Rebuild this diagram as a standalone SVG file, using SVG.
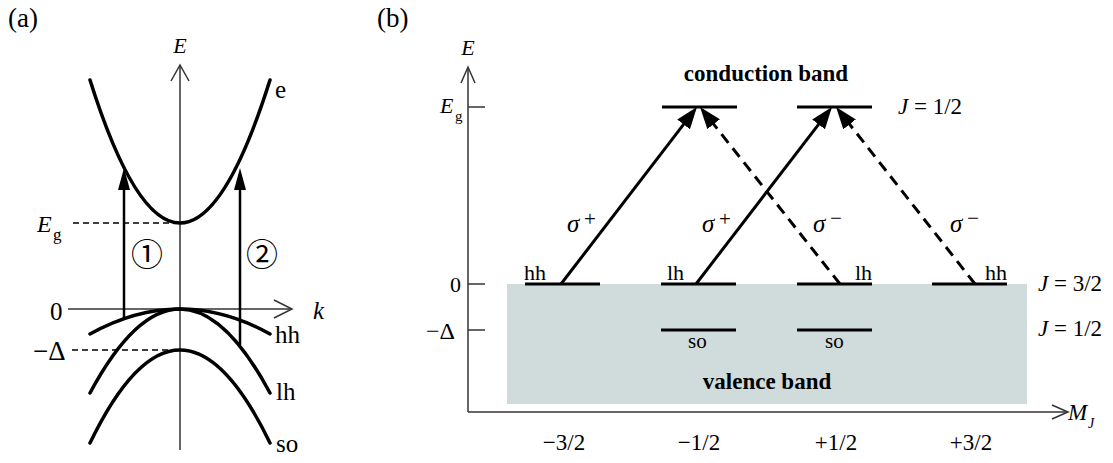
<svg xmlns="http://www.w3.org/2000/svg" width="1113" height="463" viewBox="0 0 1113 463" font-family="'Liberation Serif', 'DejaVu Serif', serif">
<style>
  text { font-family: "Liberation Serif", "DejaVu Serif", serif; fill: #000; }
  .it { font-style: italic; }
  .bold { font-weight: bold; }
  .axis { stroke: #333; stroke-width: 1.5; fill: none; }
  .band { stroke: #000; stroke-width: 3.5; fill: none; stroke-linecap: round; }
  .guide { stroke: #000; stroke-width: 1.5; stroke-dasharray: 6 4; fill: none; }
  .varrow { stroke: #000; stroke-width: 2.5; fill: none; }
  .level { stroke: #000; stroke-width: 3; fill: none; }
  .solid { stroke: #000; stroke-width: 3; fill: none; }
  .dash { stroke: #000; stroke-width: 3; fill: none; stroke-dasharray: 11 7; }
  text.circ { font-family: "Noto Sans CJK JP", "DejaVu Sans", sans-serif; }
</style>
<defs>
  <marker id="ahA" markerUnits="userSpaceOnUse" markerWidth="22" markerHeight="12" refX="12" refY="6" orient="auto">
    <path d="M0,0 L22,6 L0,12 z" fill="#000"/>
  </marker>
  <marker id="ahB" markerUnits="userSpaceOnUse" markerWidth="22" markerHeight="16" refX="12" refY="8" orient="auto">
    <path d="M0,0 L22,8 L0,16 z" fill="#000"/>
  </marker>
</defs>

<!-- ===== Panel (a) ===== -->
<g id="panel-a">
  <text x="8" y="27" font-size="27">(a)</text>
  <g id="a-axes">
    <line class="axis" x1="180" y1="450" x2="180" y2="66"/>
    <polyline class="axis" points="171,81 180,65 189,81"/>
    <line class="axis" x1="68" y1="309" x2="291" y2="309"/>
    <polyline class="axis" points="274,300 292,309 274,318"/>
    <text class="it" x="180" y="53" font-size="22" text-anchor="middle">E</text>
    <text class="it" x="313" y="319" font-size="25">k</text>
    <text x="50" y="320" font-size="25">0</text>
  </g>
  <g id="a-eg">
    <line class="guide" x1="73" y1="223" x2="170" y2="223"/>
    <text class="it" x="37" y="232" font-size="24">E</text>
    <text x="53" y="240" font-size="17">g</text>
  </g>
  <g id="a-delta">
    <line class="guide" x1="72" y1="350" x2="176" y2="350"/>
    <text x="33" y="360" font-size="27">−Δ</text>
  </g>
  <g id="band-e">
    <path class="band" d="M90,80 Q180,366 270,80"/>
    <text x="275" y="98" font-size="25">e</text>
  </g>
  <g id="band-hh">
    <path class="band" d="M90,334 Q180,284 270,334"/>
    <text x="275" y="343" font-size="25">hh</text>
  </g>
  <g id="band-lh">
    <path class="band" d="M90,393 Q180,225 270,393"/>
    <text x="276" y="400" font-size="25">lh</text>
  </g>
  <g id="band-so">
    <path class="band" d="M90,443 Q180,257 270,443"/>
    <text x="276" y="452" font-size="25">so</text>
  </g>
  <g id="a-transitions">
    <line class="varrow" x1="124" y1="318" x2="124" y2="178" marker-end="url(#ahA)"/>
    <line class="varrow" x1="240" y1="345" x2="240" y2="178" marker-end="url(#ahA)"/>
    <text class="circ" x="147" y="266" font-size="32" text-anchor="middle" font-family="'Noto Sans CJK JP', sans-serif">①</text>
    <text class="circ" x="262" y="266" font-size="32" text-anchor="middle" font-family="'Noto Sans CJK JP', sans-serif">②</text>
  </g>
</g>

<!-- ===== Panel (b) ===== -->
<g id="panel-b">
  <text x="377" y="27" font-size="27">(b)</text>
  <rect id="valence-region" x="507" y="284" width="520" height="120" fill="#d0dbdb"/>
  <g id="b-axes">
    <line class="axis" x1="468" y1="412" x2="468" y2="68"/>
    <polyline class="axis" points="461,83 468,67 475,83"/>
    <line class="axis" x1="468" y1="412" x2="1067" y2="412"/>
    <polyline class="axis" points="1052,405 1068,412 1052,419"/>
    <line class="axis" x1="468" y1="107" x2="485" y2="107"/>
    <line class="axis" x1="468" y1="284" x2="485" y2="284"/>
    <line class="axis" x1="468" y1="330" x2="485" y2="330"/>
    <text class="it" x="468" y="55" font-size="22" text-anchor="middle">E</text>
    <text class="it" x="440" y="113" font-size="22">E</text>
    <text x="455" y="121" font-size="15">g</text>
    <text x="450" y="292" font-size="22">0</text>
    <text x="426" y="339" font-size="24">−Δ</text>
    <text class="it" x="1068" y="420" font-size="23">M</text>
    <text class="it" x="1088" y="428" font-size="14">J</text>
    <text x="564" y="450" font-size="23" text-anchor="middle">−3/2</text>
    <text x="699" y="450" font-size="23" text-anchor="middle">−1/2</text>
    <text x="836" y="450" font-size="23" text-anchor="middle">+1/2</text>
    <text x="971" y="450" font-size="23" text-anchor="middle">+3/2</text>
  </g>
  <g id="conduction-band">
    <text class="bold" x="766" y="81" font-size="23" text-anchor="middle">conduction band</text>
    <line class="level" x1="662" y1="107" x2="737" y2="107"/>
    <line class="level" x1="797" y1="107" x2="872" y2="107"/>
    <text x="898" y="114" font-size="23"><tspan class="it">J</tspan> = 1/2</text>
  </g>
  <g id="level-hh-m32">
    <line class="level" x1="525" y1="284" x2="600" y2="284"/>
    <text x="524" y="280" font-size="22">hh</text>
  </g>
  <g id="level-lh-m12">
    <line class="level" x1="661" y1="284" x2="736" y2="284"/>
    <text x="667" y="280" font-size="22">lh</text>
  </g>
  <g id="level-lh-p12">
    <line class="level" x1="797" y1="284" x2="872" y2="284"/>
    <text x="855" y="280" font-size="22">lh</text>
  </g>
  <g id="level-hh-p32">
    <line class="level" x1="932" y1="284" x2="1007" y2="284"/>
    <text x="985" y="280" font-size="22">hh</text>
  </g>
  <g id="level-so-m12">
    <line class="level" x1="661" y1="330" x2="736" y2="330"/>
    <text x="688" y="348" font-size="21">so</text>
  </g>
  <g id="level-so-p12">
    <line class="level" x1="797" y1="330" x2="872" y2="330"/>
    <text x="825" y="348" font-size="21">so</text>
  </g>
  <g id="j-labels">
    <text x="1038" y="291" font-size="23"><tspan class="it">J</tspan> = 3/2</text>
    <text x="1038" y="336" font-size="23"><tspan class="it">J</tspan> = 1/2</text>
  </g>
  <text class="bold" x="767" y="389" font-size="23" text-anchor="middle">valence band</text>
  <g id="b-transitions">
    <line class="solid" x1="561" y1="284" x2="690.9" y2="114.9" marker-end="url(#ahB)"/>
    <line class="solid" x1="696" y1="284" x2="825.9" y2="114.9" marker-end="url(#ahB)"/>
    <line class="dash" x1="840" y1="284" x2="706.2" y2="114.8" marker-end="url(#ahB)"/>
    <line class="dash" x1="975" y1="284" x2="842.2" y2="114.9" marker-end="url(#ahB)"/>
    <text class="it" x="567" y="232" font-size="25">σ</text>
    <text x="584" y="226" font-size="21">+</text>
    <text class="it" x="702" y="232" font-size="25">σ</text>
    <text x="719" y="226" font-size="21">+</text>
    <text class="it" x="813" y="232" font-size="25">σ</text>
    <text x="830" y="225" font-size="21">−</text>
    <text class="it" x="950" y="232" font-size="25">σ</text>
    <text x="967" y="225" font-size="21">−</text>
  </g>
</g>
</svg>
